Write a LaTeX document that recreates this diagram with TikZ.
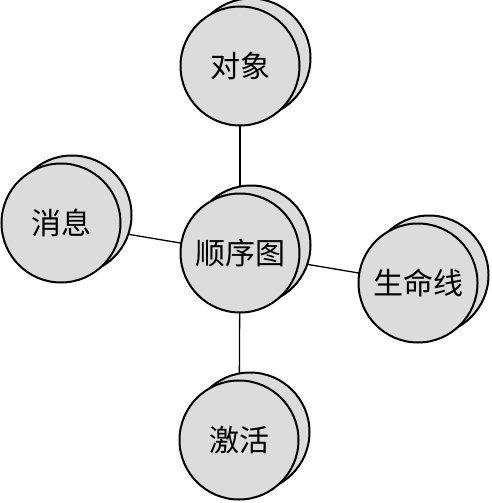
\documentclass[tikz,border=0pt]{standalone}
\usepackage{fontspec}
\newfontfamily\cjk{Noto Sans CJK SC}
\usetikzlibrary{shadows,backgrounds}
\definecolor{coinfill}{RGB}{220,220,220}
\tikzset{
  coin/.style={circle, draw=black, line width=2pt, fill=coinfill,
    minimum size=119pt, inner sep=0pt,
    font=\cjk\fontsize{30}{36}\selectfont,
    general shadow={fill=coinfill, draw=black, line width=2pt,
      shadow xshift=11pt, shadow yshift=8pt}},
  link/.style={draw=black, line width=1.3pt}
}
\begin{document}
\begin{tikzpicture}[x=1pt,y=1pt]
\useasboundingbox (0,0) rectangle (492,-503);
\node[coin] (top) at (240,-66) {对象};
\node[coin] (cen) at (240,-253) {顺序图};
\node[coin] (bot) at (239,-440) {激活};
\node[coin] (lft) at (61,-223) {消息};
\node[coin] (rgt) at (418,-283) {生命线};
\begin{scope}[on background layer]
\draw[link] (cen.center) -- (top.center);
\draw[link] (cen.center) -- (bot.center);
\draw[link] (cen.center) -- (lft.center);
\draw[link] (cen.center) -- (rgt.center);
\end{scope}
\end{tikzpicture}
\end{document}
